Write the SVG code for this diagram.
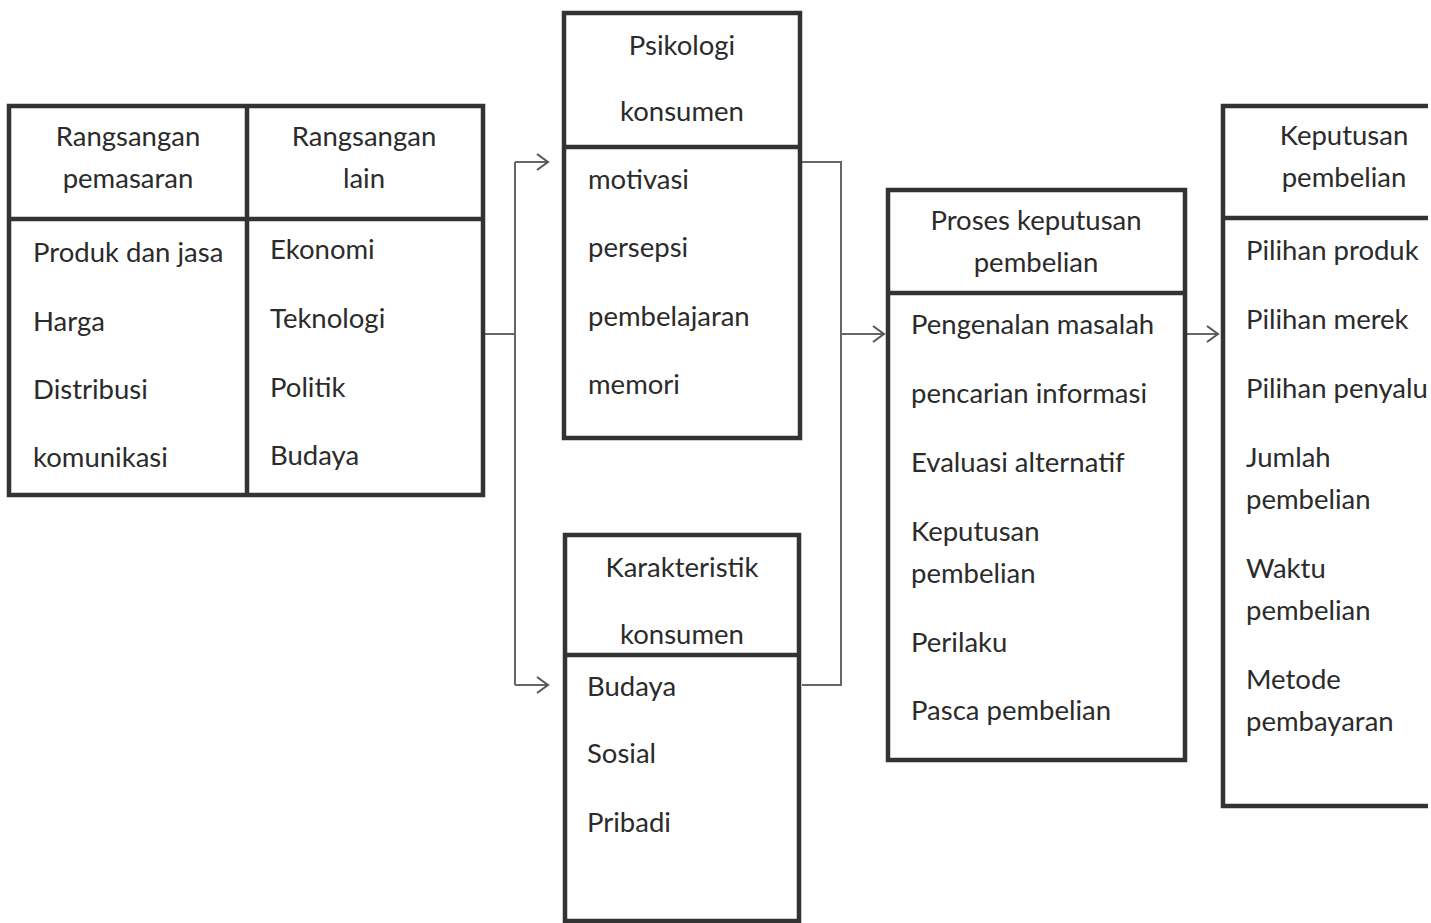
<svg xmlns="http://www.w3.org/2000/svg" width="1431" height="923" viewBox="0 0 1431 923">
<defs>
<marker id="arr" markerWidth="14" markerHeight="20" refX="12" refY="10" orient="auto" markerUnits="userSpaceOnUse">
<path d="M1,2 L12,10 L1,18" fill="none" stroke="#555" stroke-width="2"/>
</marker>
</defs>
<style>
.box{fill:none;stroke:#333;stroke-width:4.5}
.div{stroke:#333;stroke-width:4.5}
.con{fill:none;stroke:#666;stroke-width:2}
text{font-family:Lato,"Open Sans","Liberation Sans",sans-serif;font-size:27.5px;fill:#2b2b2b}
.c{text-anchor:middle}
</style>
<rect width="1431" height="923" fill="#fff"/>
<g id="connectors">
<path class="con" d="M485,334 H515"/>
<path class="con" d="M515,162 V685"/>
<path class="con" d="M515,162 H548" marker-end="url(#arr)"/>
<path class="con" d="M515,685 H548" marker-end="url(#arr)"/>
<path class="con" d="M802,162 H841 V685 H802"/>
<path class="con" d="M841,334 H884" marker-end="url(#arr)"/>
<path class="con" d="M1187,334 H1218" marker-end="url(#arr)"/>
</g>
<g id="rangsangan">
<rect class="box" x="9" y="106" width="474" height="389"/>
<line class="div" x1="247" y1="106" x2="247" y2="495"/>
<line class="div" x1="9" y1="219" x2="483" y2="219"/>
<text class="c" x="128" y="146">Rangsangan</text>
<text class="c" x="128" y="188">pemasaran</text>
<text class="c" x="364" y="146">Rangsangan</text>
<text class="c" x="364" y="188">lain</text>
<text x="33" y="262">Produk dan jasa</text>
<text x="33" y="331">Harga</text>
<text x="33" y="399">Distribusi</text>
<text x="33" y="467">komunikasi</text>
<text x="270" y="259">Ekonomi</text>
<text x="270" y="328">Teknologi</text>
<text x="270" y="397">Politik</text>
<text x="270" y="465">Budaya</text>
</g>
<g id="psikologi">
<rect class="box" x="564" y="13" width="236" height="425"/>
<line class="div" x1="564" y1="147" x2="800" y2="147"/>
<text class="c" x="682" y="55">Psikologi</text>
<text class="c" x="682" y="121">konsumen</text>
<text x="588" y="189">motivasi</text>
<text x="588" y="257">persepsi</text>
<text x="588" y="326">pembelajaran</text>
<text x="588" y="394">memori</text>
</g>
<g id="karakteristik">
<rect class="box" x="565" y="535" width="234" height="386"/>
<line class="div" x1="565" y1="655" x2="799" y2="655"/>
<text class="c" x="682" y="577">Karakteristik</text>
<text class="c" x="682" y="644">konsumen</text>
<text x="587" y="696">Budaya</text>
<text x="587" y="763">Sosial</text>
<text x="587" y="832">Pribadi</text>
</g>
<g id="proses">
<rect class="box" x="888" y="190" width="297" height="570"/>
<line class="div" x1="888" y1="293" x2="1185" y2="293"/>
<text class="c" x="1036" y="230">Proses keputusan</text>
<text class="c" x="1036" y="272">pembelian</text>
<text x="911" y="334">Pengenalan masalah</text>
<text x="911" y="403">pencarian informasi</text>
<text x="911" y="472">Evaluasi alternatif</text>
<text x="911" y="541">Keputusan</text>
<text x="911" y="583">pembelian</text>
<text x="911" y="652">Perilaku</text>
<text x="911" y="720">Pasca pembelian</text>
</g>
<g id="keputusan">
<path class="box" d="M1428,106 H1223 V806 H1428"/>
<line class="div" x1="1223" y1="218" x2="1428" y2="218"/>
<text class="c" x="1344" y="145">Keputusan</text>
<text class="c" x="1344" y="187">pembelian</text>
<text x="1246" y="260">Pilihan produk</text>
<text x="1246" y="329">Pilihan merek</text>
<text x="1246" y="398">Pilihan penyalu</text>
<text x="1246" y="467">Jumlah</text>
<text x="1246" y="509">pembelian</text>
<text x="1246" y="578">Waktu</text>
<text x="1246" y="620">pembelian</text>
<text x="1246" y="689">Metode</text>
<text x="1246" y="731">pembayaran</text>
</g>
</svg>
